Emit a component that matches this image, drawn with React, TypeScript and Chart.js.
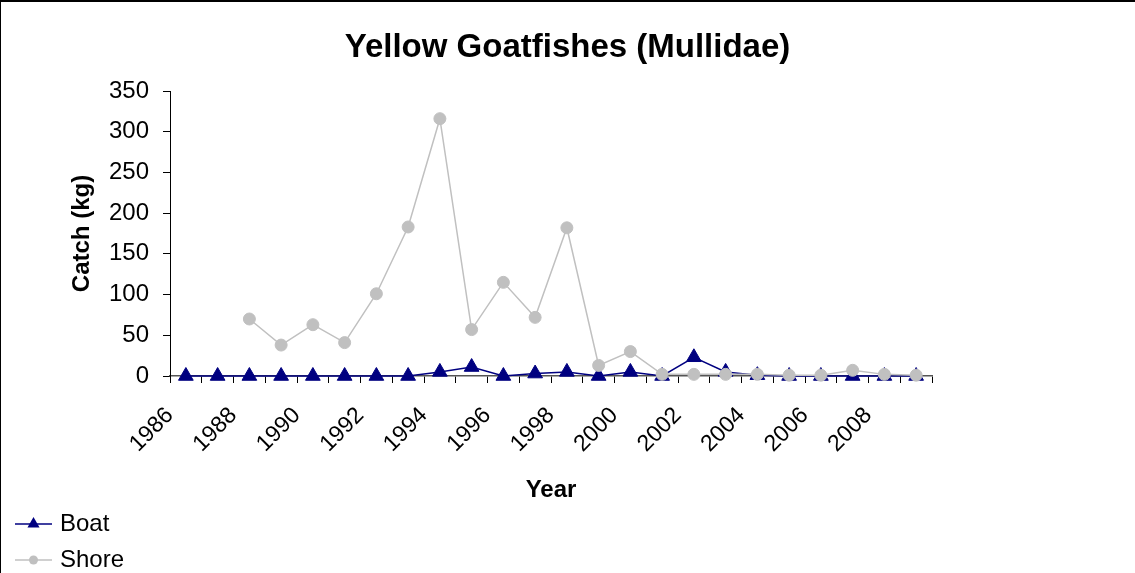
import React, { useEffect, useRef } from 'react';
import { Chart, registerables } from 'chart.js';

Chart.register(...registerables);

const years = [
  '1986', '1987', '1988', '1989', '1990', '1991', '1992', '1993', '1994', '1995', '1996', '1997',
  '1998', '1999', '2000', '2001', '2002', '2003', '2004', '2005', '2006', '2007', '2008', '2009',
];
const boat = [0, 0, 0, 0, 0, 0, 0, 0, 5, 11, 0, 3, 5, 0, 5, 0, 23, 5, 1, 0, 0, 0, 0, 0];
const shore = [null, null, 70, 38, 63, 41, 101, 183, 316, 57, 115, 72, 182, 13, 30, 2, 2, 2, 2, 1, 1, 7, 2, 1];
const yMin = 0;
const yMax = 350;
const yStep = 50;

const title = 'Yellow Goatfishes (Mullidae)';
const xTitle = 'Year';
const yTitle = 'Catch (kg)';

const FONT = '"Liberation Sans", Arial, Helvetica, sans-serif';

export default function App() {
  const ref = useRef<HTMLCanvasElement>(null);

  useEffect(() => {
    if (!ref.current) return;

    const legendPlugin = {
      id: 'customLegend',
      afterDraw(chart: any) {
        const ctx = chart.ctx;
        const rows = [524, 560];
        ctx.save();
        chart.data.datasets.forEach((ds: any, i: number) => {
          const y = rows[i];
          ctx.strokeStyle = ds.borderColor;
          ctx.lineWidth = 1.5;
          ctx.beginPath();
          ctx.moveTo(15, y);
          ctx.lineTo(52, y);
          ctx.stroke();
          ctx.fillStyle = ds.pointBackgroundColor;
          ctx.beginPath();
          if (ds.pointStyle === 'triangle') {
            const r = 7;
            ctx.moveTo(33.5, y - r);
            ctx.lineTo(33.5 + r * 0.866, y + r * 0.5);
            ctx.lineTo(33.5 - r * 0.866, y + r * 0.5);
            ctx.closePath();
          } else {
            ctx.arc(33.5, y, 4.5, 0, Math.PI * 2);
          }
          ctx.fill();
          ctx.fillStyle = '#000';
          ctx.font = `24px ${FONT}`;
          ctx.textBaseline = 'middle';
          ctx.textAlign = 'left';
          ctx.fillText(ds.label, 60, y);
        });
        ctx.restore();
      },
    };

    const borderPlugin = {
      id: 'frame',
      afterDraw(chart: any) {
        const ctx = chart.ctx;
        ctx.save();
        ctx.fillStyle = '#000';
        ctx.fillRect(0, 0, chart.width, 2);
        ctx.fillRect(0, 0, 1, chart.height);
        ctx.restore();
      },
    };

    const chart = new Chart(ref.current, {
      type: 'line',
      data: {
        labels: years,
        datasets: [
          {
            label: 'Boat',
            data: boat,
            borderColor: '#000080',
            backgroundColor: '#000080',
            pointBackgroundColor: '#000080',
            pointBorderColor: '#000080',
            pointStyle: 'triangle',
            pointRadius: 8.5,
            pointBorderWidth: 1,
            borderWidth: 1.5,
            tension: 0,
            clip: false,
            order: 1,
          },
          {
            label: 'Shore',
            data: shore,
            borderColor: '#C0C0C0',
            backgroundColor: '#C0C0C0',
            pointBackgroundColor: '#C0C0C0',
            pointBorderColor: '#C0C0C0',
            pointStyle: 'circle',
            pointRadius: 6,
            pointBorderWidth: 1,
            borderWidth: 1.5,
            tension: 0,
            clip: false,
            order: 0,
          },
        ],
      },
      options: {
        responsive: false,
        animation: false,
        events: [],
        layout: { padding: { left: 0, right: 0, top: 0, bottom: 68 } },
        plugins: {
          legend: { display: false },
          tooltip: { enabled: false },
          title: {
            display: true,
            text: title,
            color: '#000',
            font: { family: FONT, size: 33, weight: 'bold' },
            padding: { top: 28, bottom: 23.4 },
          },
        },
        scales: {
          x: {
            type: 'category',
            offset: true,
            grid: {
              display: true,
              drawOnChartArea: false,
              offset: true,
              tickLength: 7,
              color: '#000',
            },
            border: { display: true, color: '#555', width: 1.5 },
            ticks: {
              autoSkip: false,
              minRotation: 45,
              maxRotation: 45,
              color: '#000',
              padding: 19,
              labelOffset: -16,
              font: { family: FONT, size: 23 },
              callback: (_v: any, i: number) => (i % 2 === 0 ? years[i] : ''),
            },
            title: {
              display: true,
              text: xTitle,
              color: '#000',
              font: { family: FONT, size: 24, weight: 'bold' },
              padding: { top: 0, bottom: 0 },
            },
            afterFit: (scale: any) => {
              scale.height = 129;
            },
          },
          y: {
            min: yMin,
            max: yMax,
            grid: {
              display: true,
              drawOnChartArea: false,
              tickLength: 7,
              color: '#000',
            },
            border: { display: true, color: '#000', width: 1 },
            ticks: {
              stepSize: yStep,
              color: '#000',
              padding: 14,
              font: { family: FONT, size: 24 },
            },
            title: {
              display: true,
              text: yTitle,
              color: '#000',
              font: { family: FONT, size: 24, weight: 'bold' },
              padding: { top: 68, bottom: 0 },
            },
            afterFit: (scale: any) => {
              scale.width = 170;
            },
          },
          spacer: {
            type: 'linear',
            position: 'right',
            display: true,
            grid: { display: false, drawOnChartArea: false, drawTicks: false },
            border: { display: false },
            ticks: { display: false },
            title: { display: false },
            afterFit: (scale: any) => {
              scale.width = 203;
            },
          },
        },
      },
      plugins: [legendPlugin, borderPlugin],
    } as any);

    return () => chart.destroy();
  }, []);

  return (
    <div style={{ position: 'absolute', left: 0, top: 0, width: 1135, height: 573, background: '#fff' }}>
      <canvas ref={ref} width={1135} height={573} style={{ display: 'block', width: 1135, height: 573 }} />
    </div>
  );
}
